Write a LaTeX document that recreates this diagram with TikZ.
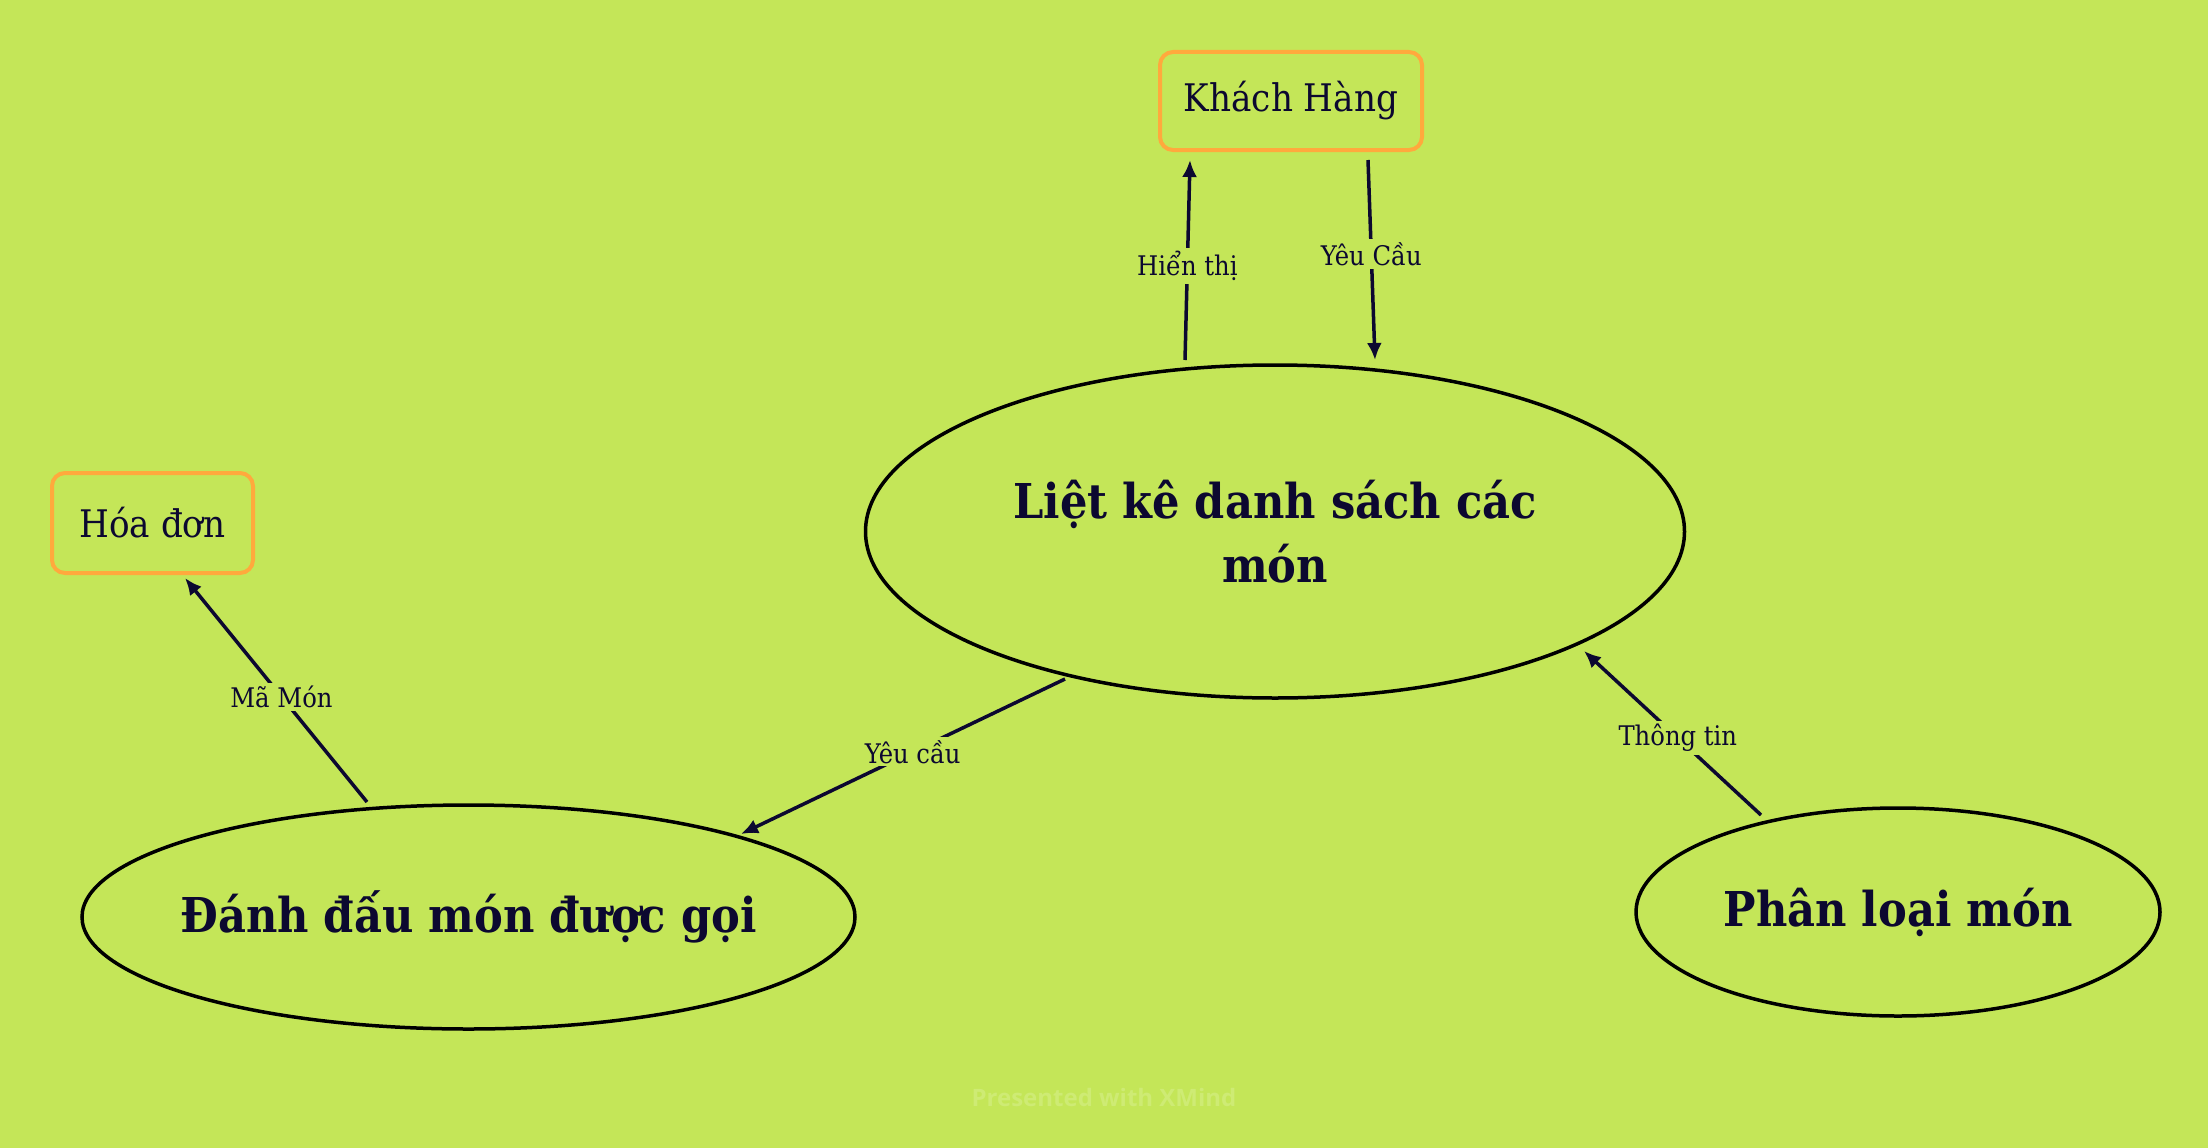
\documentclass[tikz,border=0pt]{standalone}
\usepackage{fontspec}
\usetikzlibrary{shapes.geometric,arrows.meta}
\setmainfont{DejaVu Serif}[FakeStretch=0.90]
\newfontfamily\wmfont{Open Sans}
\definecolor{bg}{HTML}{C4E658}
\definecolor{ink}{HTML}{0C0830}
\definecolor{boxorange}{HTML}{FFA93D}
\definecolor{wm}{HTML}{CEEB74}
\tikzset{
  topic/.style={ellipse, draw=black, line width=3.5pt, inner sep=0pt, text=ink, align=center,
    font=\bfseries\fontsize{48}{64}\selectfont},
  extbox/.style={draw=boxorange, line width=4pt, rounded corners=13pt, text=ink, inner sep=0pt,
    font=\fontsize{38}{44}\selectfont},
  conn/.style={draw=ink, line width=3.5pt, -{Latex[length=17pt,width=15pt]}},
  lbl/.style={fill=bg, text=ink, inner sep=3pt, font=\fontsize{27}{30}\selectfont, pos=0.47}
}
\begin{document}
\begin{tikzpicture}[x=1pt,y=-1pt]
\fill[bg] (0,0) rectangle (2208,1148);
\useasboundingbox (0,0) rectangle (2208,1148);
% topics
\node[topic, minimum width=819pt, minimum height=333pt] (liet) at (1275,531.5) {Liệt kê danh sách các\\món};
\node[topic, minimum width=773pt, minimum height=224pt] (danh) at (468.5,917) {\makebox[0pt][c]{Đánh đấu món được gọi}};
\node[topic, minimum width=524pt, minimum height=208pt] (phan) at (1898,912) {\makebox[0pt][c]{Phân loại món}};
% external boxes
\node[extbox, minimum width=262pt, minimum height=98pt] (khach) at (1291,101) {Khách Hàng};
\node[extbox, minimum width=201pt, minimum height=100pt] (hoa) at (152.5,523) {Hóa đơn};
% connector end points
\coordinate (h1) at (1185,360); \coordinate (h2) at (1190,160);
\coordinate (y1) at (1368,160); \coordinate (y2) at (1375,360);
\coordinate (c1) at (1065,679); \coordinate (c2) at (741,834);
\coordinate (m1) at (367,802);  \coordinate (m2) at (185,578);
\coordinate (t1) at (1761,815); \coordinate (t2) at (1584,651);
% connectors
\draw[conn] (h1) -- node[lbl] {Hiển thị} (h2);
\draw[conn] (y1) -- node[lbl] {Yêu Cầu} (y2);
\draw[conn] (c1) -- node[lbl] {Yêu cầu} (c2);
\draw[conn] (m1) -- node[lbl] {Mã Món} (m2);
\draw[conn] (t1) -- node[lbl] {Thông tin} (t2);
% watermark
\node[text=wm, font=\wmfont\bfseries\fontsize{24}{28}\selectfont, anchor=base] (wmk) at (1104,1106) {Presented with XMind};
\end{tikzpicture}
\end{document}
